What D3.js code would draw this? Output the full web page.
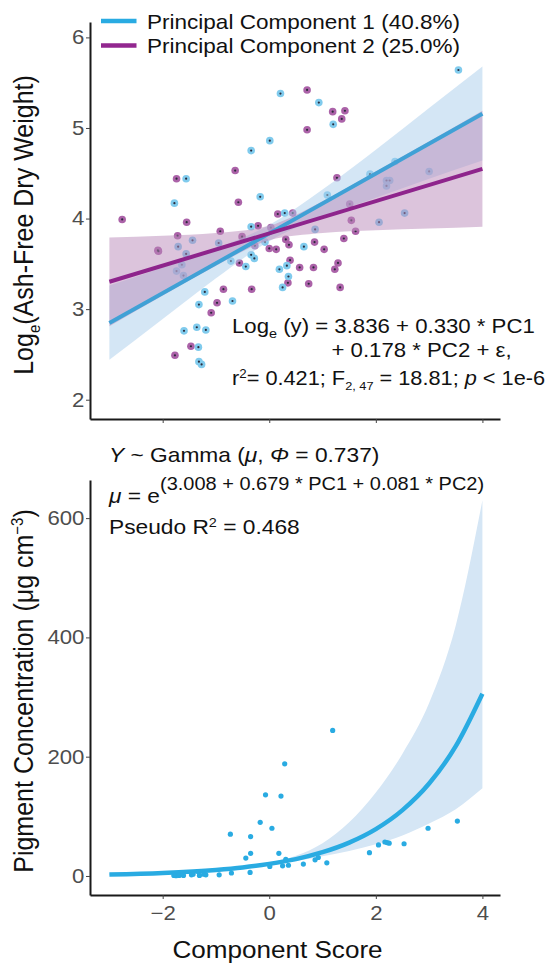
<!DOCTYPE html>
<html>
<head>
<meta charset="utf-8">
<script src="https://cdn.jsdelivr.net/npm/d3@7"></script>
<style>
  body { margin: 0; background: #fff; }
  svg { display: block; font-family: "Liberation Sans", Arial, sans-serif; }
</style>
</head>
<body>
<div id="chart"></div>
<script>
// ---- top panel data (component score vs log AFDW) ----
var pc1Score = [0.21, 0.01, -0.34, -1.56, -0.17, -1.78, -0.34, -1.44, 3.55, 0.93, 1.20, 1.89, 2.20, 2.26, 2.20, 3.00,
  1.09, 2.54, 2.06, 0.86, 0.29, -1.71, -0.95, -0.08, -1.56, -1.64, -1.74, -1.61, -0.72, -0.34, -0.28, -0.44,
  -1.21, -1.32, -0.69, -1.60, -1.36, -1.19, -1.33, -1.32, -1.27, 0.65, 0.19, 0.33, 0.36, 0.25, 2.36];
var pc1Weight = [5.38, 4.86, 4.75, 4.44, 4.24, 4.17, 3.91, 3.76, 5.64, 5.28, 5.04, 4.49, 4.42, 4.42, 4.36, 4.52,
  4.26, 4.06, 3.96, 3.88, 4.06, 3.69, 3.73, 3.74, 3.61, 3.49, 3.42, 3.37, 3.53, 3.60, 3.56, 3.47,
  3.19, 3.05, 3.09, 2.76, 2.80, 2.77, 2.58, 2.42, 2.39, 3.69, 3.44, 3.48, 3.36, 3.24, 4.63];
var pc2Score = [-0.64, -1.74, -0.58, -2.76, -1.55, -0.21, 0.03, 0.16, -1.72, -0.92, -0.51, -2.09, -2.08, -0.27, 0.00, 0.13,
  -0.56, -0.86, -0.33, -0.98, -1.09, -1.47, -1.77, 0.71, 1.19, 1.42, 1.36, 0.71, 1.27, 1.51, 1.54, 1.62,
  1.40, 0.44, 0.31, 0.37, 0.85, 1.03, 0.39, 0.57, 0.83, 1.29, 1.23, 0.35, 0.74, 1.33];
var pc2Weight = [4.53, 4.44, 4.18, 3.99, 3.96, 3.92, 3.90, 4.05, 3.81, 3.86, 3.80, 3.65, 3.64, 3.70, 3.67, 3.66,
  3.51, 3.22, 3.22, 3.07, 2.96, 2.59, 2.49, 5.42, 5.18, 5.19, 5.10, 4.98, 4.45, 4.16, 3.98, 3.86,
  3.78, 4.06, 3.77, 3.71, 3.74, 3.66, 3.54, 3.46, 3.46, 3.51, 3.44, 3.29, 3.28, 3.24];

var fitX = [-3, 4];
var pc1Fit = [2.846, 5.156];
var pc2Fit = [3.302, 4.548];
var bandX = [-3, -2, -1, 0, 1, 2, 3, 4];
var pc1Lo = [2.44, 2.89, 3.34, 3.75, 4.02, 4.23, 4.44, 4.64];
var pc1Hi = [3.26, 3.46, 3.67, 3.93, 4.32, 4.76, 5.22, 5.68];
var pc2Lo = [2.81, 3.15, 3.48, 3.76, 3.84, 3.87, 3.89, 3.91];
var pc2Hi = [3.79, 3.81, 3.84, 3.92, 4.19, 4.52, 4.85, 5.19];

var legendLabels = ["Principal Component 1 (40.8%)", "Principal Component 2 (25.0%)"];
var topYTicks = [2, 3, 4, 5, 6];
var xTicks = [-2, 0, 2, 4];

// ---- bottom panel data (component score vs pigment) ----
var pigScore = [-1.79, -1.75, -1.69, -1.61, -1.46, -1.43, -1.33, -1.31, -1.23, -1.19, -0.94, -0.73, -0.71, -0.44,
  -0.36, -0.35, -0.35, -0.17, -0.07, 0.01, 0.05, 0.18, 0.22, 0.25, 0.29, 0.31, 0.36, 0.64, 0.86, 0.92,
  1.08, 1.19, 1.88, 2.05, 2.17, 2.21, 2.25, 2.53, 2.98, 3.53];
var pigConc = [1, 0.5, 1, 1, 2, 3, 7, 1, 3, 2, 2, 70, 5, 30,
  6, 38, 66, 90, 136, 16, 80, 38, 134, 17, 188, 28, 18, 20, 27, 31,
  22, 244, 39, 52, 57, 56, 55, 54, 80, 92];
var gamX = [-3, -2, -1, -0.5, 0, 0.5, 1, 1.5, 2, 2.5, 3, 3.5, 4];
var gamFit = [2.64, 5.18, 10.18, 14.3, 20.25, 28.3, 39.9, 56.0, 78.6, 110.4, 155.0, 217.6, 305.6];
var gamLo = [1.5, 3.5, 8.2, 12, 18, 25, 33, 42, 53, 68, 88, 112, 147];
var gamHi = [4.6, 7.6, 12.6, 16.8, 23, 34, 55, 90, 140, 205, 290, 420, 630];
var botYTicks = [0, 200, 400, 600];

var W = 556, H = 964, SX = 1.11;
var blue = "#29abe2", purple = "#92278f";

var svg = d3.select("#chart").append("svg")
  .attr("width", W).attr("height", H);

// text with the slight horizontal stretch of the original figure
function txt(g, x, y, size) {
  return g.append("text")
    .attr("transform", "translate(" + x + "," + y + ") scale(" + SX + ",1)")
    .style("font-size", size + "px")
    .attr("fill", "#111");
}
function vtxt(g, x, y, size) {
  return g.append("text")
    .attr("transform", "translate(" + x + "," + y + ") rotate(-90) scale(1," + SX + ")")
    .attr("text-anchor", "middle")
    .style("font-size", size + "px")
    .attr("fill", "#111");
}
function styleAxis(a) {
  a.attr("font-size", 20).attr("font-family", null);
  a.select(".domain").attr("stroke", "#1a1a1a").attr("stroke-width", 2);
  a.selectAll(".tick line").attr("stroke", "#444");
  a.selectAll(".tick text").attr("fill", "#4d4d4d").attr("transform", "scale(" + SX + ",1)");
}

var x = d3.scaleLinear().domain([-3.364, 4.33]).range([90, 500]);

// ================= top panel =================
var yTop = d3.scaleLinear().domain([1.787, 6.17]).range([419, 22]);
var topG = svg.append("g");

var pts1 = pc1Score.map(function(d, i) { return {x: d, y: pc1Weight[i]}; });
var pts2 = pc2Score.map(function(d, i) { return {x: d, y: pc2Weight[i]}; });

function dots(data, col) {
  topG.append("g").selectAll("circle").data(data).enter().append("circle")
    .attr("cx", function(d) { return x(d.x); })
    .attr("cy", function(d) { return yTop(d.y); })
    .attr("r", 3.8).attr("fill", col);
  topG.append("g").selectAll("circle").data(data).enter().append("circle")
    .attr("cx", function(d) { return x(d.x); })
    .attr("cy", function(d) { return yTop(d.y); })
    .attr("r", 1.1).attr("fill", "#2b2b3b");
}
dots(pts2, "#ab62a8");
dots(pts1, "#80cbed");

var band = d3.area().curve(d3.curveMonotoneX)
  .x(function(d) { return x(d.x); })
  .y0(function(d) { return yTop(d.lo); })
  .y1(function(d) { return yTop(d.hi); });
topG.append("path")
  .datum(bandX.map(function(d, i) { return {x: d, lo: pc1Lo[i], hi: pc1Hi[i]}; }))
  .attr("d", band).attr("fill", "#a9cdec").attr("fill-opacity", 0.5);
topG.append("path")
  .datum(bandX.map(function(d, i) { return {x: d, lo: pc2Lo[i], hi: pc2Hi[i]}; }))
  .attr("d", band).attr("fill", "#b98ab9").attr("fill-opacity", 0.5);

var fitLine = d3.line().x(function(d) { return x(d.x); }).y(function(d) { return yTop(d.y); });
topG.append("path")
  .datum(fitX.map(function(d, i) { return {x: d, y: pc1Fit[i]}; }))
  .attr("d", fitLine).attr("fill", "none").attr("stroke", "#40a1d6").attr("stroke-width", 4);
topG.append("path")
  .datum(fitX.map(function(d, i) { return {x: d, y: pc2Fit[i]}; }))
  .attr("d", fitLine).attr("fill", "none").attr("stroke", "#8e248c").attr("stroke-width", 4);

var ax = topG.append("g").attr("transform", "translate(0,419)")
  .call(d3.axisBottom(x).tickValues(xTicks).tickSize(4).tickSizeOuter(0).tickFormat(""));
styleAxis(ax);
var ay = topG.append("g").attr("transform", "translate(90,0)")
  .call(d3.axisLeft(yTop).tickValues(topYTicks).tickSize(4).tickPadding(1).tickSizeOuter(0)
    .tickFormat(d3.format("d")));
styleAxis(ay);

// legend
[blue, purple].forEach(function(c, i) {
  var ly = 21 + i * 24.5;
  topG.append("line").attr("x1", 101).attr("x2", 136.5).attr("y1", ly).attr("y2", ly)
    .attr("stroke", c).attr("stroke-width", 4.5);
  txt(topG, 147, ly + 7.5, 20.3).text(legendLabels[i]);
});

// y title
var t1 = vtxt(topG, 33, 225, 25);
t1.append("tspan").text("Log");
t1.append("tspan").attr("dy", 6).style("font-size", "15px").text("e");
t1.append("tspan").attr("dy", -6).text("(Ash-Free Dry Weight)");

// regression text
var e1 = txt(topG, 232, 333, 20);
e1.append("tspan").text("Log");
e1.append("tspan").attr("dy", 5).style("font-size", "13px").text("e");
e1.append("tspan").attr("dy", -5).text(" (y) = 3.836 + 0.330 * PC1");
txt(topG, 331.5, 357, 20).text("+ 0.178 * PC2 + \u03b5,");
var e3 = txt(topG, 232, 385, 19.6);
e3.append("tspan").text("r");
e3.append("tspan").attr("dy", -7).style("font-size", "12px").text("2");
e3.append("tspan").attr("dy", 7).text("= 0.421; F");
e3.append("tspan").attr("dy", 5).style("font-size", "11.5px").text("2, 47");
e3.append("tspan").attr("dy", -5).text(" = 18.81; ");
e3.append("tspan").style("font-style", "italic").text("p");
e3.append("tspan").text(" < 1e-6");

// ================= bottom panel =================
var yBot = d3.scaleLinear().domain([-31.9, 663.9]).range([895, 480]);
var botG = svg.append("g");

botG.append("path")
  .datum(gamX.map(function(d, i) { return {x: d, lo: gamLo[i], hi: gamHi[i]}; }))
  .attr("d", d3.area().curve(d3.curveMonotoneX)
    .x(function(d) { return x(d.x); })
    .y0(function(d) { return yBot(d.lo); })
    .y1(function(d) { return yBot(d.hi); }))
  .attr("fill", "#d5e6f5");
botG.append("path")
  .datum(gamX.map(function(d, i) { return {x: d, y: gamFit[i]}; }))
  .attr("d", d3.line().curve(d3.curveMonotoneX)
    .x(function(d) { return x(d.x); })
    .y(function(d) { return yBot(d.y); }))
  .attr("fill", "none").attr("stroke", blue).attr("stroke-width", 4.5);
botG.append("g").selectAll("circle")
  .data(pigScore.map(function(d, i) { return {x: d, y: pigConc[i]}; }))
  .enter().append("circle")
  .attr("cx", function(d) { return x(d.x); })
  .attr("cy", function(d) { return yBot(d.y); })
  .attr("r", 2.6).attr("fill", blue);

var bx = botG.append("g").attr("transform", "translate(0,895)")
  .call(d3.axisBottom(x).tickValues(xTicks).tickSize(4).tickPadding(7).tickSizeOuter(0)
    .tickFormat(function(d) { return d < 0 ? "\u2212" + Math.abs(d) : d; }));
styleAxis(bx);
var by = botG.append("g").attr("transform", "translate(90,0)")
  .call(d3.axisLeft(yBot).tickValues(botYTicks).tickSize(4).tickPadding(1).tickSizeOuter(0));
styleAxis(by);

var t2 = vtxt(botG, 33, 691, 25);
t2.append("tspan").text("Pigment Concentration (\u03bcg cm");
t2.append("tspan").attr("dy", -9).style("font-size", "15px").text("\u22123");
t2.append("tspan").attr("dy", 9).text(")");

txt(botG, 277.5, 958, 23.5).attr("text-anchor", "middle").text("Component Score");

var g1 = txt(botG, 109, 462, 20.5);
g1.append("tspan").style("font-style", "italic").text("Y");
g1.append("tspan").text(" ~ Gamma (");
g1.append("tspan").style("font-style", "italic").text("\u03bc");
g1.append("tspan").text(", ");
g1.append("tspan").style("font-style", "italic").text("\u03a6");
g1.append("tspan").text(" = 0.737)");

var g2 = txt(botG, 109, 503, 20.5);
g2.append("tspan").style("font-style", "italic").text("\u03bc");
g2.append("tspan").text(" = e");
g2.append("tspan").attr("dy", -13).style("font-size", "18px").text("(3.008 + 0.679 * PC1 + 0.081 * PC2)");

var g3 = txt(botG, 109, 534, 20.5);
g3.append("tspan").text("Pseudo R");
g3.append("tspan").attr("dy", -7).style("font-size", "13px").text("2");
g3.append("tspan").attr("dy", 7).text(" = 0.468");
</script>
</body>
</html>
